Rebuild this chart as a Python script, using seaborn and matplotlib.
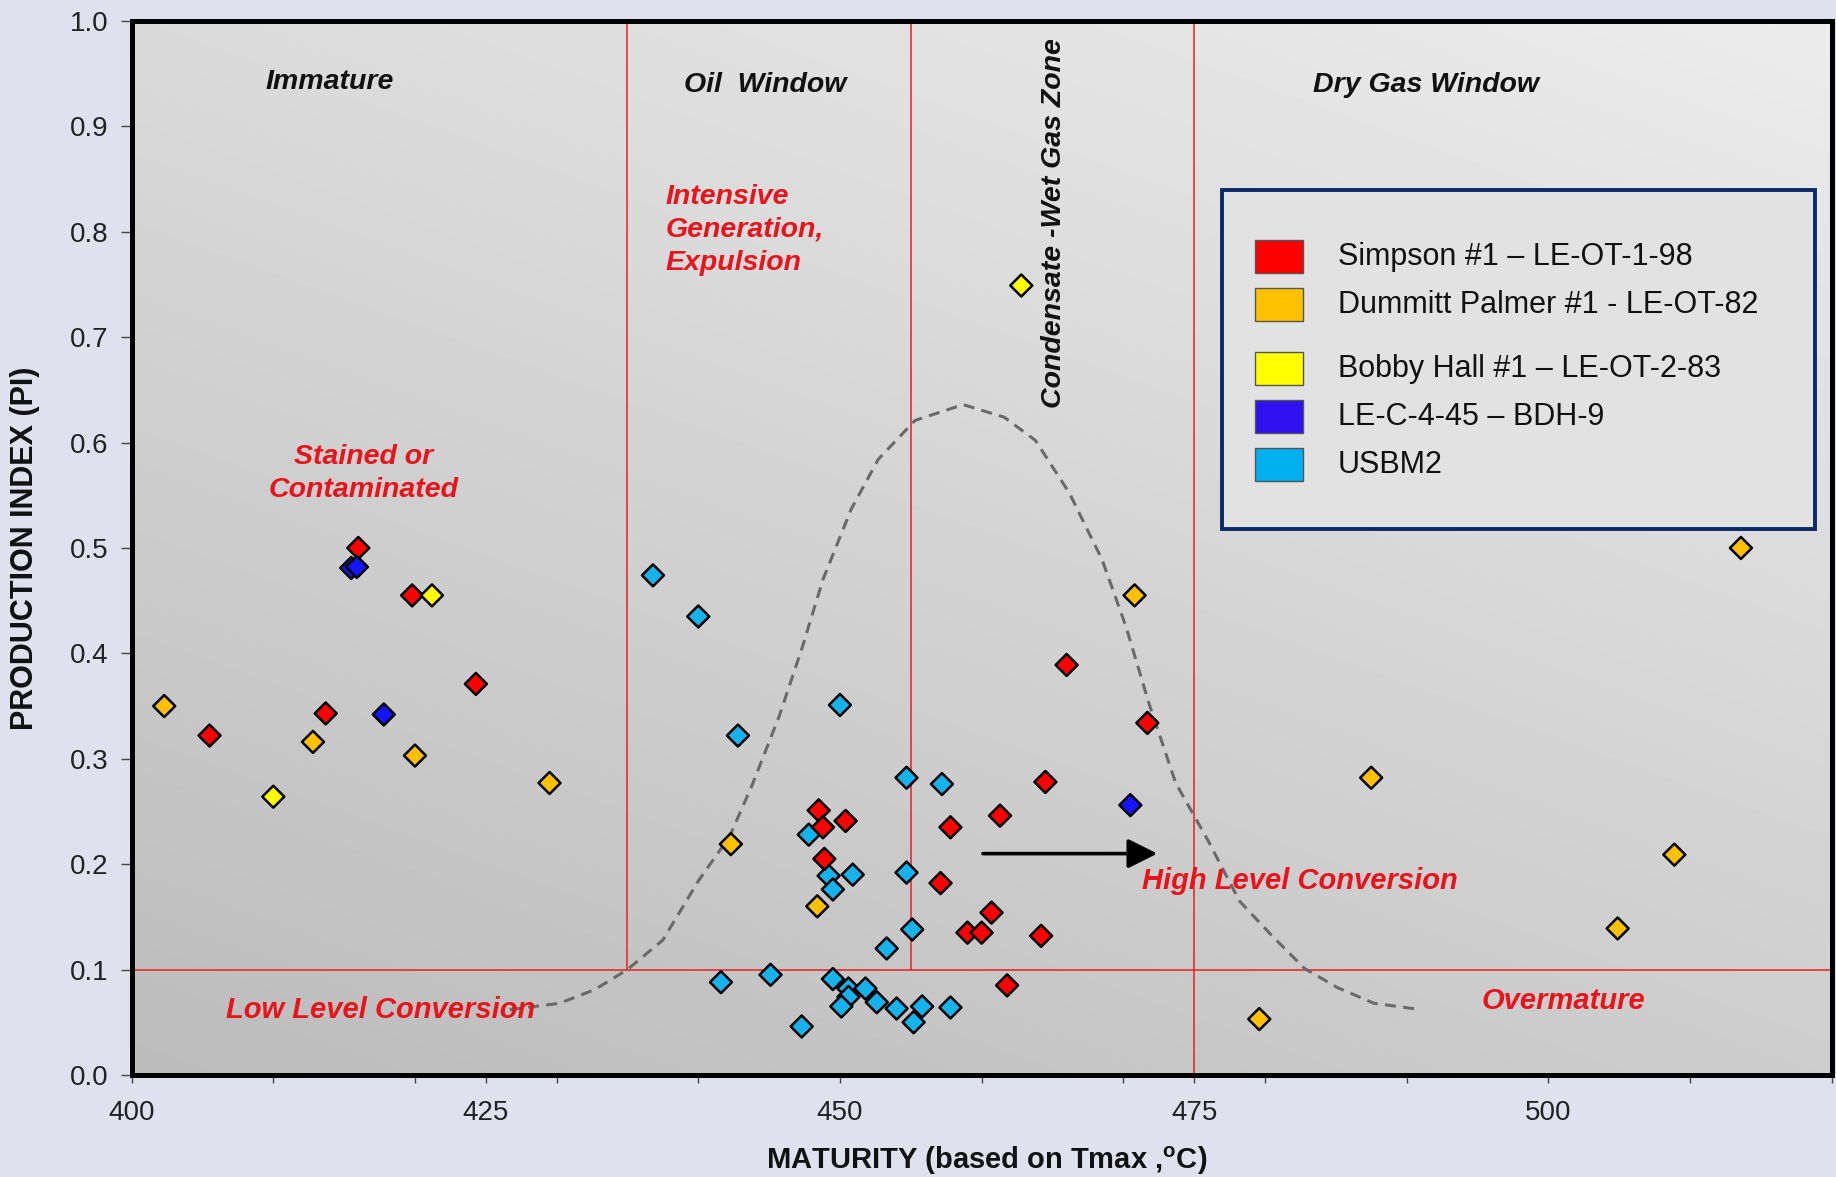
import numpy as np
import pandas as pd
import matplotlib
matplotlib.use("Agg")
import matplotlib.pyplot as plt
import seaborn as sns
from matplotlib.patches import Rectangle
from matplotlib.ticker import FixedLocator, FuncFormatter

# ---- values: Tmax (oC) and production index ----
simpson_tmax = [405.5, 413.7, 416.0, 419.8, 424.3, 448.5, 448.8, 448.9, 450.4,
                457.1, 457.8, 459.0, 460.0, 460.7, 461.3, 461.8, 464.2, 464.5,
                466.0, 471.7]
simpson_pi = [0.322, 0.343, 0.500, 0.455, 0.371, 0.251, 0.235, 0.205, 0.241,
              0.182, 0.235, 0.135, 0.135, 0.154, 0.246, 0.085, 0.132, 0.278,
              0.389, 0.334]

dummitt_tmax = [402.3, 412.8, 420.0, 429.5, 442.3, 448.4, 470.8, 479.6, 487.5,
                504.9, 508.9, 513.6]
dummitt_pi = [0.350, 0.316, 0.303, 0.277, 0.219, 0.160, 0.455, 0.053, 0.282,
              0.139, 0.209, 0.500]

bobby_tmax = [410.0, 421.2, 462.8]
bobby_pi = [0.264, 0.455, 0.749]

lec_tmax = [415.5, 415.9, 417.8, 470.5]
lec_pi = [0.481, 0.482, 0.342, 0.256]

usbm_tmax = [436.8, 440.0, 442.8, 450.0, 454.7, 457.2, 447.8, 449.2, 450.9,
             454.7, 449.5, 455.1, 453.3, 445.1, 441.6, 449.5, 450.6, 450.6,
             450.1, 451.8, 452.6, 454.0, 455.8, 457.8, 455.2, 447.3]
usbm_pi = [0.474, 0.435, 0.322, 0.351, 0.282, 0.276, 0.228, 0.189, 0.190,
           0.192, 0.176, 0.138, 0.120, 0.095, 0.088, 0.091, 0.082, 0.074,
           0.065, 0.082, 0.069, 0.063, 0.065, 0.064, 0.050, 0.046]

# dashed generation envelope
curve_tmax = [426.7, 430.2, 432.7, 435.0, 437.5, 440.0, 442.2, 443.8, 445.7,
              447.3, 448.8, 450.8, 452.7, 455.3, 458.7, 461.6, 463.8, 466.2,
              468.5, 470.2, 471.8, 473.7, 476.0, 478.2, 480.5, 482.8, 485.1,
              487.7, 491.0]
curve_pi = [0.062, 0.068, 0.081, 0.100, 0.128, 0.184, 0.226, 0.275, 0.340,
            0.404, 0.470, 0.537, 0.584, 0.621, 0.636, 0.624, 0.602, 0.552,
            0.489, 0.425, 0.353, 0.277, 0.222, 0.165, 0.132, 0.101, 0.083,
            0.068, 0.062]

wells = ["Simpson #1 \u2013 LE-OT-1-98", "Dummitt Palmer #1 - LE-OT-82",
         "Bobby Hall #1 \u2013 LE-OT-2-83", "LE-C-4-45 \u2013 BDH-9", "USBM2"]
point_colors = ["#ff0000", "#ffc000", "#ffff00", "#1414ff", "#16b2ec"]
legend_colors = ["#ff0000", "#ffc000", "#ffff00", "#3010ee", "#00b0f0"]

xtick_pos = [400, 410, 420, 425, 430, 440, 450, 460, 470, 475, 480, 490, 500, 510, 520]
xtick_labels = [400, 425, 450, 475, 500]
ytick_pos = [0.0, 0.1, 0.2, 0.3, 0.4, 0.5, 0.6, 0.7, 0.8, 0.9, 1.0]

sns.set_style("ticks")
plt.rcParams["font.family"] = ["Liberation Sans", "DejaVu Sans"]
plt.rcParams["mathtext.fontset"] = "custom"
plt.rcParams["mathtext.rm"] = "Liberation Sans"
plt.rcParams["mathtext.bf"] = "Liberation Sans:bold"

frames = []
for name, t, p in [(wells[4], usbm_tmax, usbm_pi),
                   (wells[0], simpson_tmax, simpson_pi),
                   (wells[1], dummitt_tmax, dummitt_pi),
                   (wells[2], bobby_tmax, bobby_pi),
                   (wells[3], lec_tmax, lec_pi)]:
    frames.append(pd.DataFrame({"tmax": t, "pi": p, "well": name}))
df = pd.concat(frames, ignore_index=True)

fig = plt.figure(figsize=(18.36, 11.77), dpi=100, facecolor="#dfe2ee")
ax = fig.add_axes([0.0717, 0.0867, 0.9259, 0.8955])

# grey gradient plot area
gx, gy = np.meshgrid(np.linspace(0, 1, 200), np.linspace(0, 1, 200))
shade = 0.735 + 0.07 * gx + 0.12 * gy
ax.imshow(shade, extent=(400, 520, 0, 1), origin="lower", cmap="gray",
          vmin=0, vmax=1, aspect="auto", zorder=0, interpolation="bicubic")

red = "#e8131b"
ax.vlines([435, 455], 0.1, 1.0, color="#e82020", lw=1.1, zorder=1)
ax.vlines([475], 0.0, 1.0, color="#e82020", lw=1.1, zorder=1)
ax.axhline(0.1, color="#e82020", lw=1.1, zorder=1)

ax.plot(curve_tmax, curve_pi, color="#6a6a6a", lw=2.2, ls=(0, (3.6, 2.4)), zorder=2)

sns.scatterplot(data=df, x="tmax", y="pi", hue="well",
                palette=dict(zip(wells, point_colors)), marker="D", s=125,
                edgecolor="black", linewidth=1.8, legend=False, ax=ax, zorder=4)

ax.annotate("", xy=(472.6, 0.210), xytext=(459.9, 0.210),
            arrowprops=dict(arrowstyle="-|>,head_length=0.9,head_width=0.45",
                            color="black", lw=2.6, mutation_scale=20), zorder=5)

# zone labels
txt = dict(fontweight="bold", fontstyle="italic", ha="center", va="center", zorder=5)
ax.text(414.0, 0.942, "Immature", fontsize=20.5, color="#111111", **txt)
ax.text(444.75, 0.939, "Oil  Window", fontsize=20.5, color="#111111", **txt)
ax.text(491.4, 0.939, "Dry Gas Window", fontsize=20.5, color="#111111", **txt)
ax.text(465.1, 0.808, "Condensate -Wet Gas Zone", fontsize=20.5, color="#111111",
        rotation=90, **txt)
ax.text(416.4, 0.571, "Stained or\nContaminated", fontsize=20.5, color=red,
        linespacing=1.35, **txt)
ax.text(417.6, 0.062, "Low Level Conversion", fontsize=21, color=red, **txt)
ax.text(482.5, 0.184, "High Level Conversion", fontsize=21, color=red, **txt)
ax.text(501.1, 0.070, "Overmature", fontsize=21, color=red, **txt)
ax.text(437.7, 0.802, "Intensive\nGeneration,\nExpulsion", fontsize=20.5, color=red,
        fontweight="bold", fontstyle="italic", ha="left", va="center",
        linespacing=1.35, zorder=5)

# legend box
ax.add_patch(Rectangle((0.6413, 0.518), 0.3488, 0.3215, transform=ax.transAxes,
                       facecolor="#e2e2e2", edgecolor="#0c2a66", lw=2.8, zorder=6))
legend_rows = [0.7764, 0.7307, 0.670, 0.6246, 0.579]
for name, col, yrow in zip(wells, legend_colors, legend_rows):
    ax.add_patch(Rectangle((0.6608, yrow - 0.0155), 0.0281, 0.031,
                           transform=ax.transAxes, facecolor=col,
                           edgecolor="#555555", lw=1.0, zorder=7))
    ax.text(0.7096, yrow, name, transform=ax.transAxes, fontsize=22,
            color="#111111", ha="left", va="center", zorder=7)

ax.set_xlim(400, 520)
ax.set_ylim(0, 1)
ax.xaxis.set_major_locator(FixedLocator(xtick_pos))
ax.xaxis.set_major_formatter(FuncFormatter(
    lambda v, p: f"{v:.0f}" if round(v) in xtick_labels else ""))
ax.yaxis.set_major_locator(FixedLocator(ytick_pos))
ax.yaxis.set_major_formatter(FuncFormatter(lambda v, p: f"{v:.1f}"))
ax.tick_params(axis="x", direction="out", length=6, width=1, color="#444444",
               labelsize=20, labelcolor="#222222", pad=12)
ax.tick_params(axis="y", direction="out", length=8, width=1, color="#444444",
               labelsize=20, labelcolor="#222222", pad=9)

for side in ["left", "right", "top", "bottom"]:
    ax.spines[side].set_visible(True)
    ax.spines[side].set_linewidth(3.6)
    ax.spines[side].set_color("black")
    ax.spines[side].set_zorder(8)

ax.set_xlabel("MATURITY (based on Tmax ,$^{\\mathbf{o}}$C)", fontsize=21,
              fontweight="bold", color="#111111")
ax.set_ylabel("PRODUCTION INDEX (PI)", fontsize=22, fontweight="bold",
              color="#111111")
ax.xaxis.set_label_coords(0.503, -0.066)
ax.yaxis.set_label_coords(-0.054, 0.5)

fig.savefig("out.png", dpi=100, facecolor=fig.get_facecolor())
